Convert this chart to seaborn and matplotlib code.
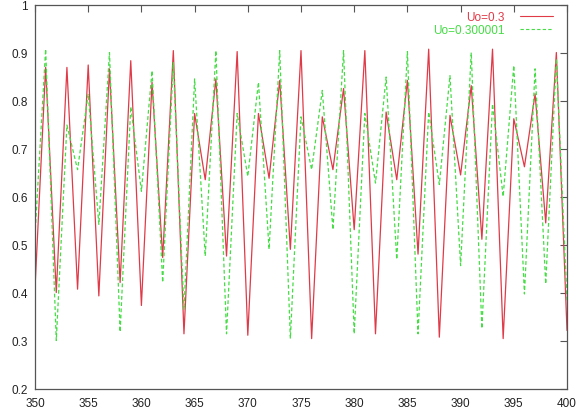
import numpy as np
import pandas as pd
import matplotlib
matplotlib.use("Agg")
import matplotlib.pyplot as plt
import seaborn as sns
from matplotlib.lines import Line2D

steps = list(range(350, 401))
u_a = [0.41, 0.870, 0.401, 0.870, 0.408, 0.875, 0.394, 0.867, 0.422, 0.884,
       0.374, 0.839, 0.474, 0.905, 0.315, 0.774, 0.636, 0.846, 0.477, 0.903,
       0.312, 0.774, 0.639, 0.843, 0.491, 0.905, 0.305, 0.767, 0.657, 0.826,
       0.532, 0.905, 0.315, 0.777, 0.636, 0.843, 0.481, 0.908, 0.308, 0.770,
       0.646, 0.832, 0.512, 0.908, 0.305, 0.763, 0.663, 0.815, 0.546, 0.901,
       0.322]
u_b = [0.52, 0.908, 0.301, 0.750, 0.657, 0.815, 0.543, 0.901, 0.319, 0.788,
       0.612, 0.863, 0.422, 0.880, 0.365, 0.846, 0.477, 0.905, 0.315, 0.774,
       0.643, 0.839, 0.491, 0.905, 0.305, 0.767, 0.657, 0.822, 0.532, 0.905,
       0.315, 0.774, 0.629, 0.850, 0.470, 0.903, 0.315, 0.777, 0.626, 0.853,
       0.457, 0.901, 0.326, 0.794, 0.601, 0.874, 0.398, 0.867, 0.419, 0.888,
       0.385]
labels = ["Uo=0.3", "Uo=0.300001"]
xticks = list(range(350, 401, 5))
yticks = [0.2, 0.3, 0.4, 0.5, 0.6, 0.7, 0.8, 0.9, 1.0]
ytick_labels = ["0.2", "0.3", "0.4", "0.5", "0.6", "0.7", "0.8", "0.9", "1"]

df = pd.DataFrame({
    "n": steps + steps,
    "u": u_a + u_b,
    "series": [labels[0]] * len(steps) + [labels[1]] * len(steps),
})

sns.set_style("white")
plt.rcParams["font.family"] = ["Liberation Sans", "DejaVu Sans"]

fig = plt.figure(figsize=(5.79, 4.14), dpi=100)
ax = fig.add_axes([35 / 579, 1 - 390 / 414, (567 - 35) / 579, (390 - 6) / 414])

red = "#e03a48"
green = "#44dd44"
sns.lineplot(data=df, x="n", y="u", hue="series", style="series",
             palette={labels[0]: red, labels[1]: green},
             dashes={labels[0]: "", labels[1]: (3, 2)},
             linewidth=0.9, ax=ax, legend=False)

ax.set_xlim(350, 400)
ax.set_ylim(0.2, 1.0)
ax.set_xticks(xticks)
ax.set_xticklabels([str(t) for t in xticks])
ax.set_yticks(yticks)
ax.set_yticklabels(ytick_labels)
ax.set_xlabel("")
ax.set_ylabel("")
for s in ax.spines.values():
    s.set_color("#555555")
    s.set_linewidth(0.9)
ax.tick_params(direction="in", length=5, width=0.8, color="#555555",
               top=True, right=True, labelsize=8.5, labelcolor="#222222")
ax.tick_params(axis="x", pad=6)
ax.tick_params(axis="y", pad=5)

handles = [Line2D([], [], color=red, lw=0.8),
           Line2D([], [], color=green, lw=0.8, ls=(0, (3, 2)))]
leg = ax.legend(handles, labels, loc="upper right",
                bbox_to_anchor=((553 - 35) / 532, 0.984),
                frameon=False, markerfirst=False, fontsize=8.5,
                handlelength=2.8, handletextpad=1.3, labelspacing=0.08,
                borderaxespad=0, borderpad=0, labelcolor="linecolor")

fig.savefig("out.png", dpi=100)
